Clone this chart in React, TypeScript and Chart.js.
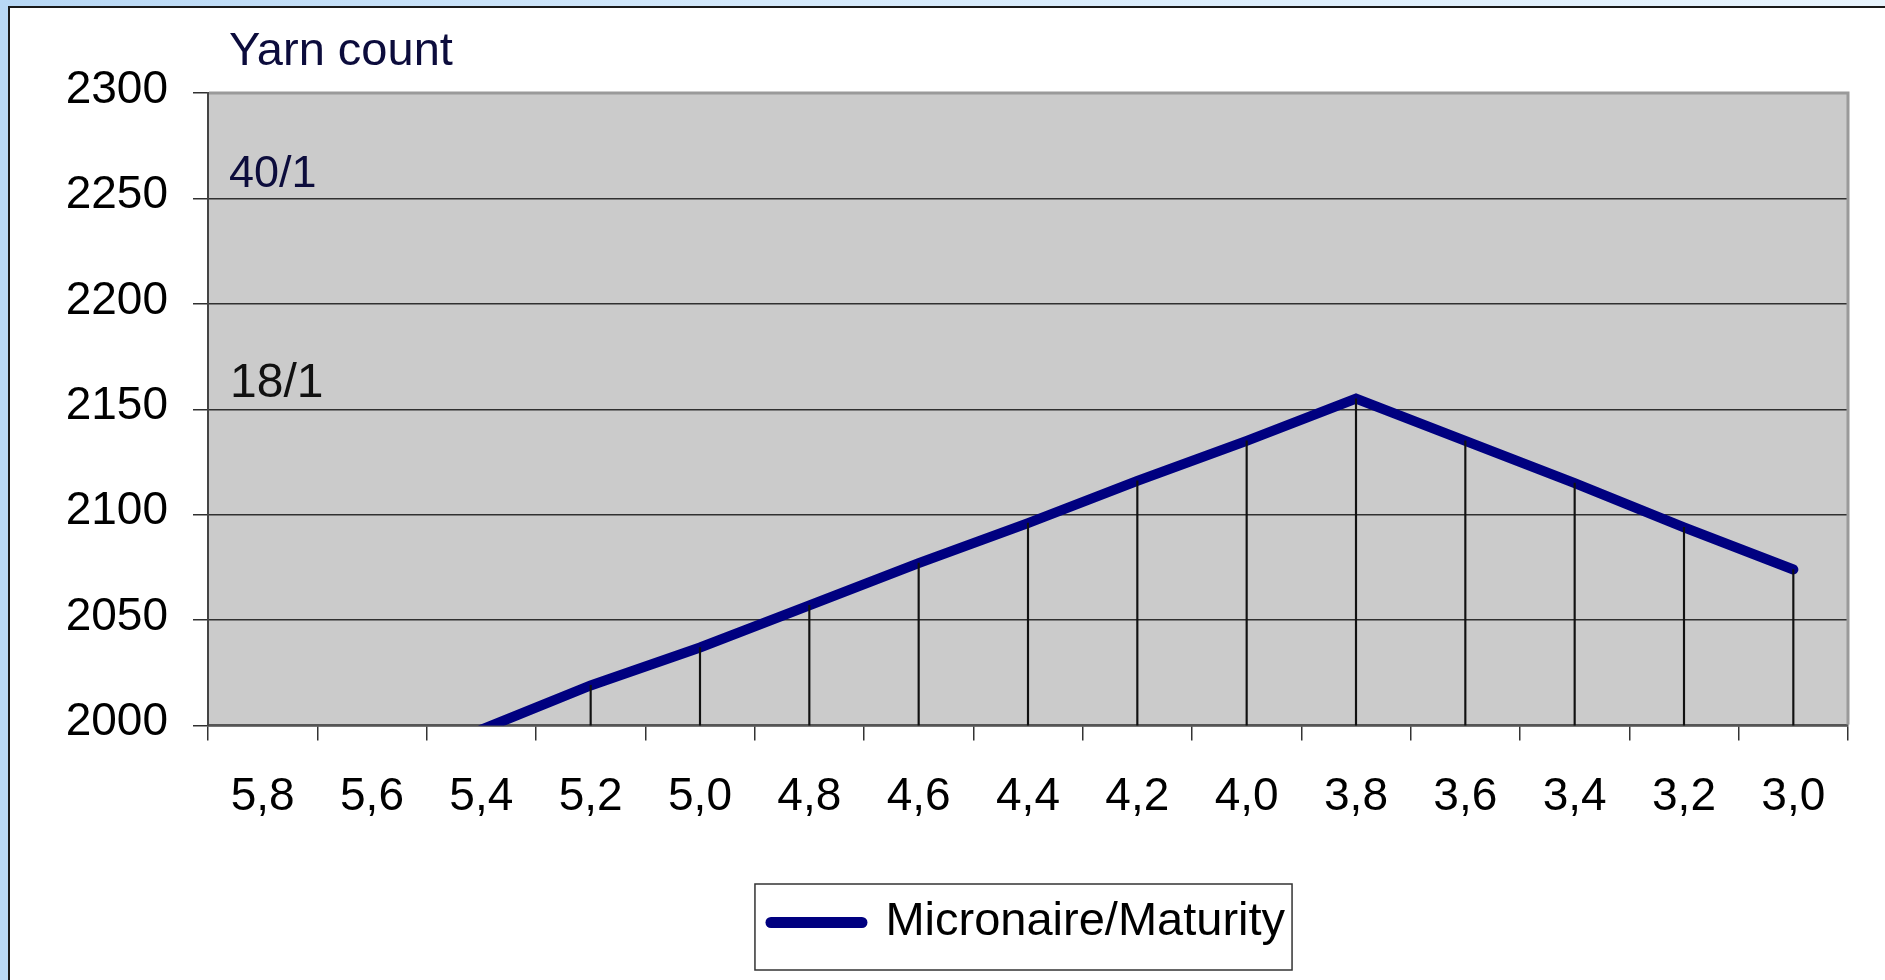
import React, { useEffect, useRef } from 'react';
import { Chart, registerables } from 'chart.js';

Chart.register(...registerables);

// ---- data ----
const categories = ['5,8', '5,6', '5,4', '5,2', '5,0', '4,8', '4,6', '4,4', '4,2', '4,0', '3,8', '3,6', '3,4', '3,2', '3,0'];
const yarnValues: (number | null)[] = [null, null, 1998, 2019, 2037, 2057, 2077, 2096, 2116, 2135, 2155, 2135, 2115, 2094, 2074];
const yMin = 2000;
const yMax = 2300;
const yStep = 50;
const seriesLabel = 'Micronaire/Maturity';
const axisTitle = 'Yarn count';
const countLabelHigh = '40/1';
const countLabelLow = '18/1';

const FONT = "'Liberation Sans', Arial, Helvetica, sans-serif";

const framePlugin = {
  id: 'frame',
  beforeDraw(chart: any) {
    const { ctx, chartArea: a } = chart;
    ctx.save();
    ctx.fillStyle = '#cbcbcb';
    ctx.fillRect(a.left, a.top, a.right - a.left, a.bottom - a.top);
    ctx.restore();
  },
  afterDraw(chart: any) {
    const { ctx, chartArea: a } = chart;
    ctx.save();
    // plot-area border (top / right)
    ctx.strokeStyle = '#9a9a9a';
    ctx.lineWidth = 3;
    ctx.beginPath();
    ctx.moveTo(a.left + 1, a.top);
    ctx.lineTo(a.right, a.top);
    ctx.lineTo(a.right, a.bottom - 1);
    ctx.stroke();

    // annotation texts
    ctx.textAlign = 'left';
    ctx.textBaseline = 'alphabetic';
    ctx.fillStyle = '#0c0c3c';
    ctx.font = `47px ${FONT}`;
    ctx.fillText(axisTitle, a.left + 21, a.top - 28);
    ctx.font = `45px ${FONT}`;
    ctx.fillText(countLabelHigh, a.left + 21, a.top + 94);
    ctx.fillStyle = '#111111';
    ctx.font = `48px ${FONT}`;
    ctx.fillText(countLabelLow, a.left + 22, a.top + 304);

    // legend frame
    const lg = chart.legend;
    if (lg && lg.legendHitBoxes && lg.legendHitBoxes.length) {
      const hb = lg.legendHitBoxes[0];
      ctx.strokeStyle = '#333333';
      ctx.lineWidth = 1.5;
      const left = hb.left - 16;
      const right = hb.left + hb.width + 7;
      const top = hb.top - 15;
      const bottom = hb.top + hb.height + 24;
      ctx.strokeRect(left, top, right - left, bottom - top);
    }
    ctx.restore();
  },
};

export default function App() {
  const ref = useRef<HTMLCanvasElement | null>(null);

  useEffect(() => {
    if (!ref.current) return;
    const chart = new Chart(ref.current, {
      type: 'bar',
      data: {
        labels: categories,
        datasets: [
          {
            type: 'bar',
            label: 'drop',
            data: yarnValues,
            backgroundColor: '#111111',
            borderWidth: 0,
            barThickness: 1.5,
            order: 0,
            clip: 0,
          } as any,
          {
            type: 'line',
            label: seriesLabel,
            data: yarnValues,
            borderColor: '#000080',
            backgroundColor: '#000080',
            borderWidth: 10,
            borderCapStyle: 'round',
            borderJoinStyle: 'miter',
            pointRadius: 0,
            tension: 0,
            order: 1,
            clip: { left: 6, right: 6, top: 0, bottom: 0 },
          } as any,
        ],
      },
      options: {
        responsive: false,
        maintainAspectRatio: false,
        devicePixelRatio: 1,
        animation: false,
        layout: { padding: { left: 20, top: 93, right: 37, bottom: 24 } },
        scales: {
          x: {
            offset: true,
            grid: {
              display: true,
              offset: true,
              drawOnChartArea: false,
              drawTicks: true,
              tickLength: 15,
              color: '#333333',
              lineWidth: 1.5,
            },
            border: { display: true, color: '#555555', width: 2.5 },
            ticks: {
              font: { family: FONT, size: 46 },
              color: '#000000',
              padding: 29,
              maxRotation: 0,
              autoSkip: false,
            },
            afterFit: (s: any) => {
              s.height = 163.5;
            },
          },
          y: {
            min: yMin,
            max: yMax,
            ticks: {
              stepSize: yStep,
              font: { family: FONT, size: 46 },
              color: '#000000',
              padding: 25,
              labelOffset: -3,
              callback: (v: any) => String(v),
            },
            grid: {
              color: '#303030',
              lineWidth: 1.5,
              tickLength: 15,
              drawTicks: true,
            },
            border: { display: true, color: '#444444', width: 2 },
            afterFit: (s: any) => {
              s.width = 188;
            },
          },
        },
        plugins: {
          title: { display: false },
          tooltip: { enabled: false },
          legend: {
            display: true,
            position: 'bottom',
            fullSize: false,
            labels: {
              usePointStyle: true,
              pointStyleWidth: 91,
              padding: 10,
              color: '#000000',
              font: { family: FONT, size: 47 },
              generateLabels: (c: any) => {
                const base = (Chart as any).defaults.plugins.legend.labels.generateLabels(c);
                return base
                  .filter((it: any) => it.text === seriesLabel)
                  .map((it: any) => ({ ...it, pointStyle: 'line', lineWidth: 11, lineCap: 'round', strokeStyle: '#000080' }));
              },
            },
          },
        },
      },
      plugins: [framePlugin],
    } as any);
    return () => chart.destroy();
  }, []);

  return (
    <div
      style={{
        position: 'fixed',
        left: 0,
        top: 0,
        width: '100vw',
        height: '100vh',
        overflow: 'hidden',
        background: 'linear-gradient(90deg, #b8d8f5 0%, #d4e9fb 40%, #e8f4fd 100%)',
      }}
    >
      <div
        style={{
          position: 'absolute',
          left: 8,
          top: 6,
          width: 1900,
          height: 1000,
          boxSizing: 'border-box',
          background: '#ffffff',
          border: '2px solid #1a1a1a',
        }}
      />
      <canvas
        ref={ref}
        width={1885}
        height={980}
        style={{ position: 'absolute', left: 0, top: 0, width: 1885, height: 980, display: 'block' }}
      />
    </div>
  );
}
